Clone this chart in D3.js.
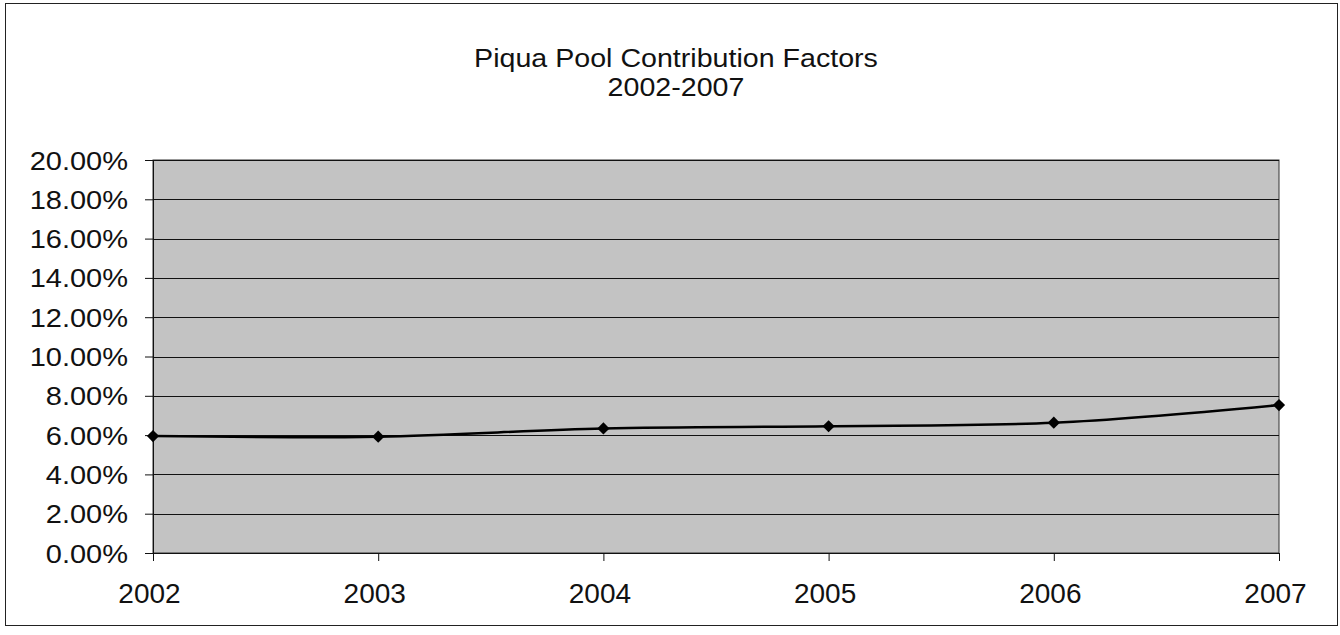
<!DOCTYPE html>
<html><head><meta charset="utf-8">
<script src="https://cdn.jsdelivr.net/npm/d3@7"></script>
<style>html,body{margin:0;padding:0;background:#fff;}svg{display:block;font-family:"Liberation Sans",Arial,sans-serif;}</style>
</head><body>
<svg id="chart" width="1340" height="635"></svg>
<script>
const years = ["2002","2003","2004","2005","2006","2007"];
const factors = [0.0595, 0.0592, 0.0634, 0.0645, 0.0663, 0.0753];
const yTicks = [0,0.02,0.04,0.06,0.08,0.10,0.12,0.14,0.16,0.18,0.20];
const titleLines = ["Piqua Pool Contribution Factors","2002-2007"];

const svg = d3.select("#chart");
const m = {left:153, right:1279, top:160, bottom:553};

// widen text horizontally (scan looks slightly stretched)
function stretch(sel, k){
  sel.each(function(){
    const w = this.getComputedTextLength();
    d3.select(this).attr("textLength", w*k).attr("lengthAdjust","spacingAndGlyphs");
  });
}

svg.append("rect").attr("x",5.5).attr("y",3.5).attr("width",1332).attr("height",622)
  .attr("fill","#fff").attr("stroke","#222").attr("stroke-width",1);

const x = d3.scalePoint().domain(years).range([m.left,m.right]);
const y = d3.scaleLinear().domain([0,0.20]).range([m.bottom,m.top]);

svg.append("rect").attr("x",m.left).attr("y",m.top).attr("width",m.right-m.left).attr("height",m.bottom-m.top)
  .attr("fill","#c3c3c3").attr("stroke","#333").attr("stroke-width",1);

// gridlines
svg.append("g").selectAll("line").data(yTicks.slice(1)).join("line")
  .attr("x1",m.left).attr("x2",m.right).attr("y1",d=>Math.round(y(d))+0.5).attr("y2",d=>Math.round(y(d))+0.5)
  .attr("stroke","#111").attr("stroke-width",1);

const yAxis = svg.append("g").attr("transform",`translate(${m.left},0)`)
  .call(d3.axisLeft(y).tickValues(yTicks).tickFormat(d=>(d*100).toFixed(2)+"%").tickSize(8).tickPadding(17));
yAxis.selectAll("text").attr("font-size","25px").attr("fill","#111").attr("dy","0.36em").call(stretch,1.16);
yAxis.selectAll("line,path").attr("stroke","#111");

const xAxis = svg.append("g").attr("transform",`translate(0,${m.bottom})`)
  .call(d3.axisBottom(x).tickSize(8).tickPadding(22));
xAxis.selectAll("text").attr("font-size","28px").attr("fill","#111").attr("dx","-4");
xAxis.selectAll("line,path").attr("stroke","#111");

const pts = years.map((yr,i)=>[x(yr), y(factors[i])]);
svg.append("path").attr("d", d3.line().curve(d3.curveCatmullRom.alpha(0))(pts))
  .attr("fill","none").attr("stroke","#000").attr("stroke-width",2.5);

svg.append("g").selectAll("path").data(pts).join("path")
  .attr("transform",d=>`translate(${d[0]},${d[1]})`)
  .attr("d", d3.symbol().type(d3.symbolDiamond2).size(95))
  .attr("fill","#000");

svg.append("g").selectAll("text").data(titleLines).join("text")
  .attr("x",676).attr("y",(d,i)=>67+i*29).attr("text-anchor","middle")
  .attr("font-size","26px").attr("fill","#111").text(d=>d).call(stretch,1.1);
</script>
</body></html>
